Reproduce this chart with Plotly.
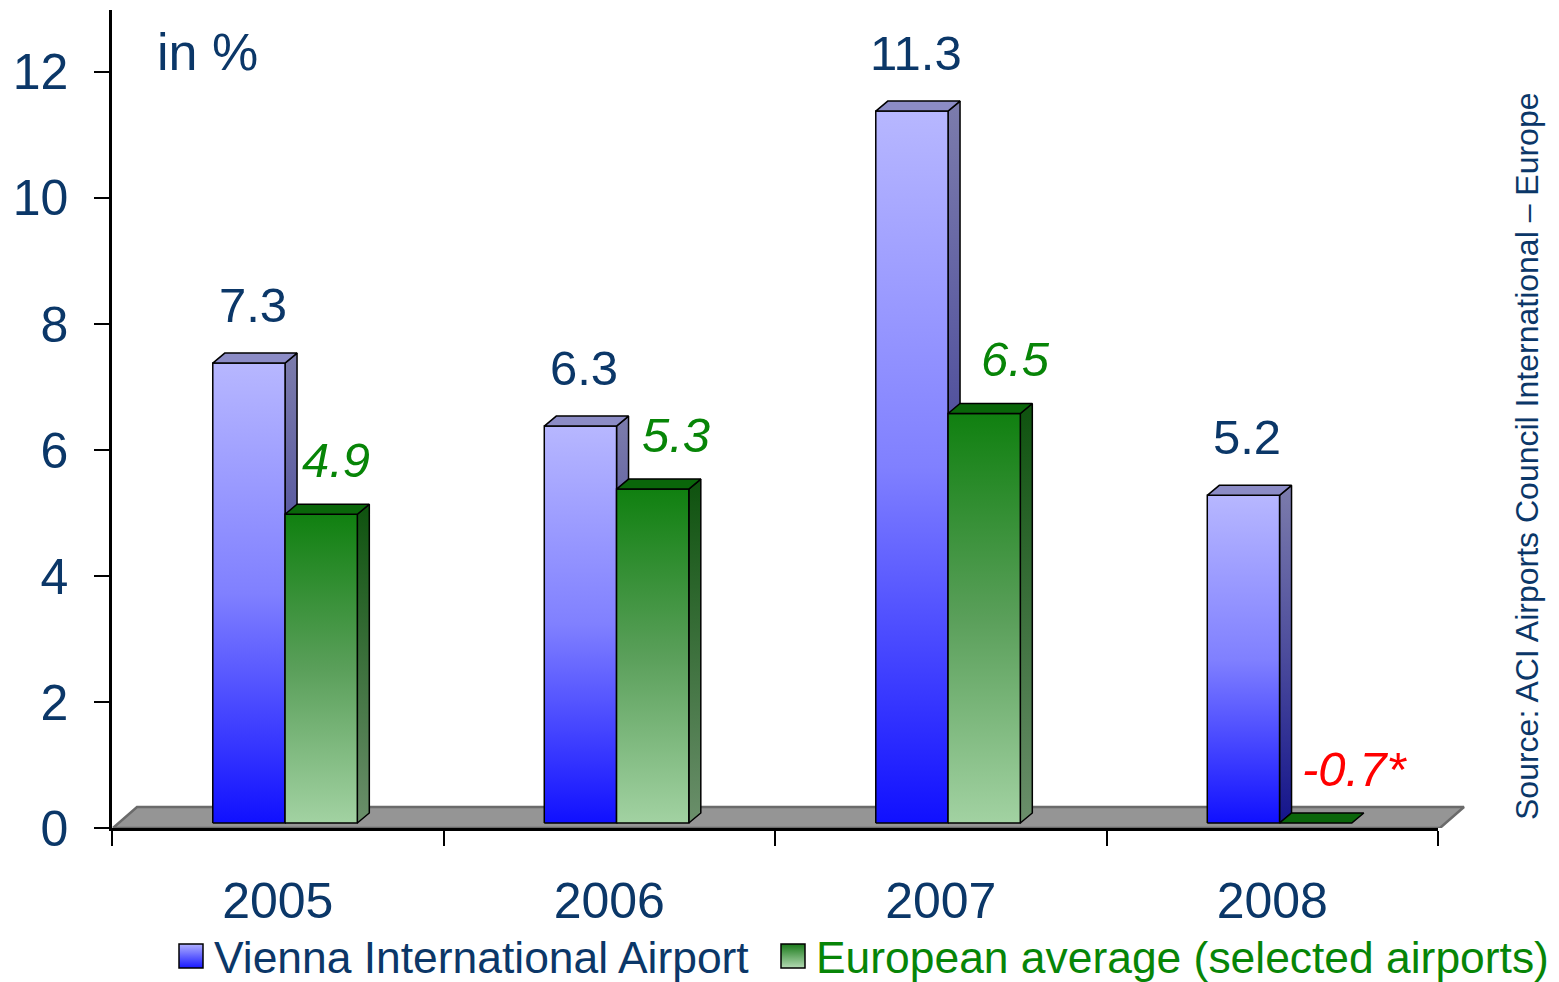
import plotly.graph_objects as go

# ---------------- data ----------------
categories = ["2005", "2006", "2007", "2008"]
vienna = [7.3, 6.3, 11.3, 5.2]
europe = [4.9, 5.3, 6.5, -0.7]
vienna_labels = ["7.3", "6.3", "11.3", "5.2"]
europe_labels = ["4.9", "5.3", "6.5", "-0.7*"]
y_ticks = [0, 2, 4, 6, 8, 10, 12]
series_names = ["Vienna International Airport", "European average (selected airports)"]
unit_label = "in %"
source_line1 = "Source: ACI Airports Council International – Europe"
source_line2 = "*2008: January – December 2008"

# ---------------- style ----------------
FONT = "Liberation Sans, Arial, sans-serif"
NAVY = "#0b3768"
GREEN_TXT = "#078507"
RED = "#ff0000"

PAGE_W, PAGE_H = 1559, 982
OFF = 8                                  # page body margin
W, H = PAGE_W - OFF, PAGE_H - OFF        # figure size

# target positions in page pixels
AX_L, AX_R, EXT_R = 112, 1438, 1478
PLOT_T, PLOT_B = 10, 828
n = len(categories)
px_per_x = (AX_R - AX_L) / n
y_top = 12.984
px_per_y = (PLOT_B - PLOT_T) / y_top

def px_x(p):      # page px -> paper x
    return (p - OFF) / W

def px_y(p):      # page px -> paper y
    return (H - (p - OFF)) / H

BASE = 0.08
BAR_W = 0.218
OFFS = [-0.196, 0.022]
DX = 12 / px_per_x
DY = 10 / px_per_y

styles = [
    dict(front=[[0, "#1010ff"], [0.5, "#8080ff"], [1, "#b7b7ff"]],
         side=[[0, "#14148c"], [0.5, "#4c4c9c"], [1, "#7c7cac"]],
         top="#8c8cc6"),
    dict(front=[[0, "#a2d2a2"], [0.5, "#5a9f5a"], [1, "#108010"]],
         side=[[0, "#6b8f6b"], [1, "#0e520e"]],
         top="#0a660a"),
]

fig = go.Figure()

# dummy trace so the main (axis) subplot exists
fig.add_trace(go.Scatter(x=[None], y=[None], xaxis="x", yaxis="y",
                         showlegend=False, hoverinfo="skip"))

# floor
fxs = [0.003, n + 0.006, n + 0.006 + 24 / px_per_x, 0.003 + 24 / px_per_x, 0.003]
fys = [0, 0, 0.333, 0.333, 0]
fig.add_trace(go.Scatter(x=fxs, y=fys, xaxis="x2", yaxis="y", mode="lines",
                         fill="toself", fillcolor="#959595",
                         line=dict(color="#6a6a6a", width=2.5),
                         hoverinfo="skip", showlegend=False))

def face(xs, ys, gradient=None, color=None):
    kw = dict(x=xs, y=ys, xaxis="x2", yaxis="y", mode="lines", fill="toself",
              line=dict(color="black", width=1.5), hoverinfo="skip", showlegend=False)
    if gradient is not None:
        kw["fillgradient"] = dict(type="vertical", colorscale=gradient)
        kw["fillcolor"] = gradient[-1][1]
    else:
        kw["fillcolor"] = color
    fig.add_trace(go.Scatter(**kw))

for i in range(n):
    c = i + 0.5
    for s, vals in enumerate([vienna, europe]):
        v = vals[i]
        st = styles[s]
        x0 = c + OFFS[s]
        x1 = x0 + BAR_W
        y0 = BASE
        y1 = max(v, 0) + BASE
        if y1 > y0:
            face([x1, x1 + DX, x1 + DX, x1, x1], [y0, y0 + DY, y1 + DY, y1, y0], gradient=st["side"])
            face([x0, x1, x1, x0, x0], [y0, y0, y1, y1, y0], gradient=st["front"])
        face([x0, x1, x1 + DX, x0 + DX, x0], [y1, y1, y1 + DY, y1 + DY, y1], color=st["top"])

# legend (swatches on a pixel-scaled helper axis + text)
legend_cols = [("#b0b0ff", "#1818ff"), ("#1a7a1a", "#b4dab4")]
legend_txt_col = [NAVY, GREEN_TXT]
swatch_px = [191, 793]
text_px = [212, 814]
LEG_Y = 956
for s in range(2):
    fig.add_trace(go.Scatter(
        x=[swatch_px[s]], y=[LEG_Y], xaxis="x3", yaxis="y3", mode="markers",
        showlegend=False, hoverinfo="skip",
        marker=dict(symbol="square", size=24, color=legend_cols[s][0],
                    gradient=dict(type="vertical", color=legend_cols[s][1]),
                    line=dict(color="black", width=1.5)),
    ))

ann = []
for s in range(2):
    ann.append(dict(x=px_x(text_px[s]), y=px_y(LEG_Y + 1), xref="paper", yref="paper",
                    xanchor="left", yanchor="middle", text=series_names[s], showarrow=False,
                    font=dict(family=FONT, size=44.4, color=legend_txt_col[s])))

# value labels
for i in range(n):
    c = i + 0.5
    xb = c + OFFS[0] + BAR_W / 2 + 4 / px_per_x
    ann.append(dict(x=xb, y=vienna[i] + BASE + 0.92, xref="x2", yref="y",
                    text=vienna_labels[i], showarrow=False, yanchor="middle",
                    font=dict(family=FONT, size=49, color=NAVY)))
    xg = c + OFFS[1] + BAR_W / 2 + (15 + 8 * i) / px_per_x
    col = RED if europe[i] < 0 else GREEN_TXT
    ann.append(dict(x=xg, y=max(europe[i], 0) + BASE + 0.86, xref="x2", yref="y",
                    text=f"<i>{europe_labels[i]}</i>", showarrow=False, yanchor="middle",
                    font=dict(family=FONT, size=49, color=col)))

ann.append(dict(x=px_x(155), y=px_y(52), xref="paper", yref="paper",
                xanchor="left", yanchor="middle", text=unit_label, showarrow=False,
                font=dict(family=FONT, size=52, color=NAVY)))
ann.append(dict(x=px_x(1527), y=px_y(822), xref="paper", yref="paper",
                xanchor="center", yanchor="bottom", textangle=-90, text=source_line1,
                showarrow=False, font=dict(family=FONT, size=32, color=NAVY)))
ann.append(dict(x=px_x(1564), y=px_y(850), xref="paper", yref="paper",
                xanchor="center", yanchor="bottom", textangle=-90, text=source_line2,
                showarrow=False, font=dict(family=FONT, size=32, color=NAVY)))

LEG_DOM = 0.14
fig.update_layout(
    width=W, height=H,
    margin=dict(l=0, r=0, t=0, b=0, autoexpand=False),
    paper_bgcolor="white", plot_bgcolor="rgba(0,0,0,0)",
    font=dict(family=FONT, color=NAVY),
    showlegend=False,
    xaxis=dict(domain=[px_x(AX_L), px_x(AX_R)], range=[0, n], anchor="y",
               tickvals=[i + 0.5 for i in range(n)], ticktext=categories,
               ticks="", showgrid=False, zeroline=False,
               showline=True, linecolor="black", linewidth=3,
               tickfont=dict(family=FONT, size=50, color=NAVY),
               ticklabelstandoff=27,
               minor=dict(tickvals=list(range(n + 1)), ticks="outside", ticklen=15,
                          tickwidth=2, tickcolor="black")),
    xaxis2=dict(domain=[px_x(AX_L), px_x(EXT_R)],
                range=[0, n * (EXT_R - AX_L) / (AX_R - AX_L)],
                anchor="y", visible=False, fixedrange=True),
    yaxis=dict(domain=[px_y(PLOT_B), px_y(PLOT_T)], range=[0, y_top], anchor="x",
               tickvals=y_ticks,
               ticks="outside", ticklen=15, tickwidth=2, tickcolor="black",
               showline=True, linecolor="black", linewidth=2.5,
               showgrid=False, zeroline=False,
               tickfont=dict(family=FONT, size=50, color=NAVY),
               ticklabelstandoff=16),
    xaxis3=dict(domain=[0, 1], range=[OFF, OFF + W], anchor="y3",
                visible=False, fixedrange=True),
    yaxis3=dict(domain=[0, LEG_DOM], range=[OFF + H, OFF + H - LEG_DOM * H], anchor="x3",
                visible=False, fixedrange=True),
    annotations=ann,
    hovermode=False,
)

fig.write_html("out.html")
